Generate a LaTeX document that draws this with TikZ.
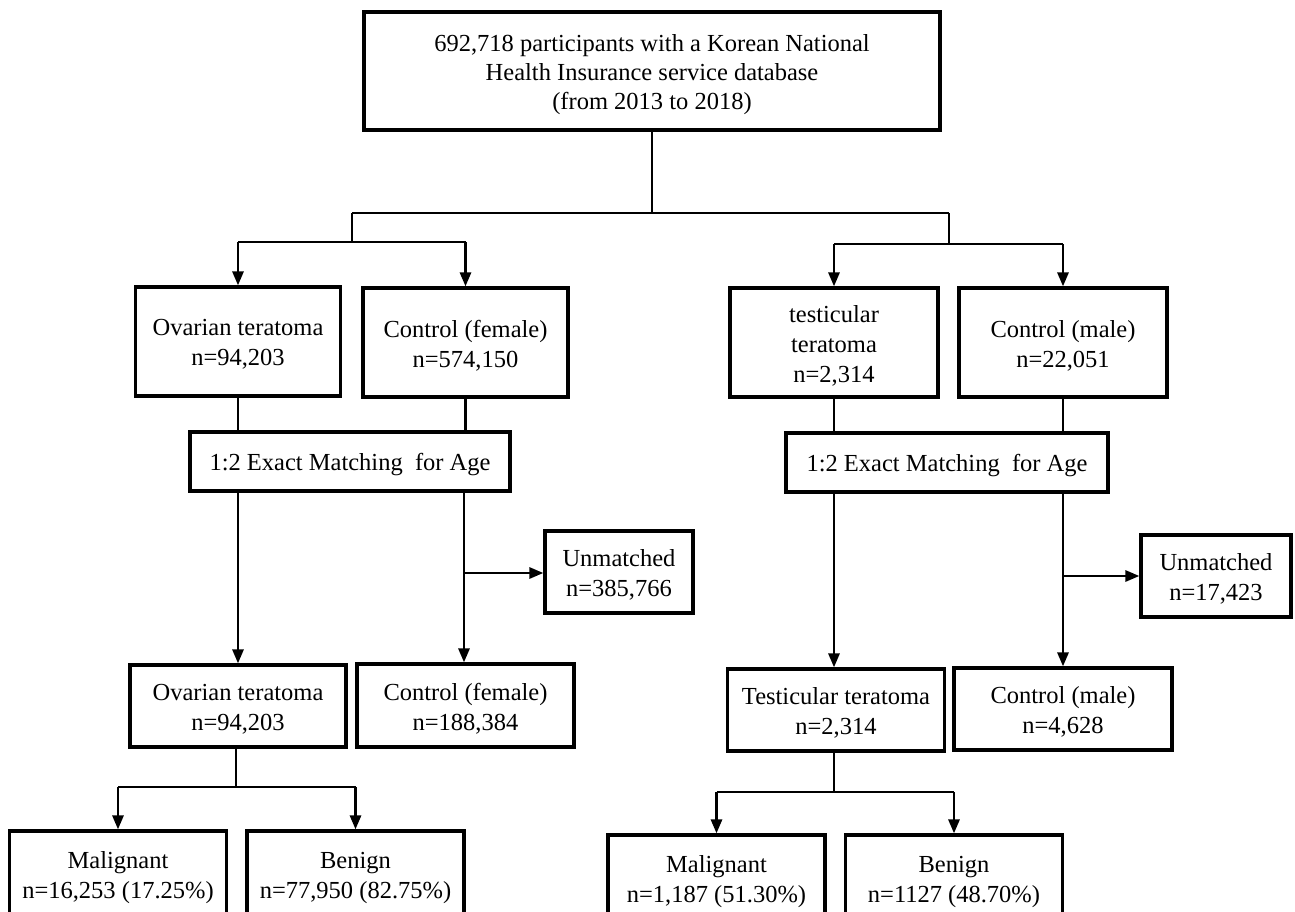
\documentclass[tikz,border=0pt]{standalone}
\usepackage{fontspec}
\setmainfont{Liberation Serif}
\usetikzlibrary{arrows.meta,calc}
\begin{document}
\begin{tikzpicture}[x=1pt,y=-1pt,
  box/.style={draw, line width=3.2pt, inner sep=0pt},
  txt/.style={align=center, inner sep=0pt, font=\fontsize{24.5}{30}\selectfont},
  con/.style={line width=2.8pt},
  arr/.style={line width=2.8pt, -{Triangle[length=14pt,width=11pt]}}]
\useasboundingbox (0,0) rectangle (1295,912);
% top
\node[box, minimum width=576pt, minimum height=118pt] (top) at (652,71) {};
\node[txt, font=\fontsize{24.5}{29}\selectfont] (topt) at ($(top)+(0,3.5)$) {692,718 participants with a Korean National\\Health Insurance service database\\(from 2013 to 2018)};
% level 1
\node[box, minimum width=205pt, minimum height=109pt] (ov1) at (238,341.5) {};
\node[box, minimum width=205pt, minimum height=109pt] (cf1) at (465.5,342.5) {};
\node[box, minimum width=208pt, minimum height=109pt] (te1) at (834,342.5) {};
\node[box, minimum width=208pt, minimum height=109pt] (cm1) at (1063,342.5) {};
\node[txt] (ov1t) at ($(ov1)+(0,3)$) {Ovarian teratoma\\n=94,203};
\node[txt] (cf1t) at ($(cf1)+(0,3)$) {Control (female)\\n=574,150};
\node[txt] (te1t) at ($(te1)+(0,3)$) {testicular\\teratoma\\n=2,314};
\node[txt] (cm1t) at ($(cm1)+(0,3)$) {Control (male)\\n=22,051};
% matching
\node[box, minimum width=320pt, minimum height=59pt] (mL) at (350,461.5) {};
\node[box, minimum width=322pt, minimum height=59pt] (mR) at (947,462.5) {};
\node[txt] (mLt) at ($(mL)+(0,3)$) {1:2 Exact Matching\ \ for Age};
\node[txt] (mRt) at ($(mR)+(0,3)$) {1:2 Exact Matching\ \ for Age};
% unmatched
\node[box, minimum width=148pt, minimum height=82pt] (uL) at (619,572) {};
\node[box, minimum width=150pt, minimum height=82pt] (uR) at (1216,576) {};
\node[txt] (uLt) at ($(uL)+(0,3)$) {Unmatched\\n=385,766};
\node[txt] (uRt) at ($(uR)+(0,3)$) {Unmatched\\n=17,423};
% level 2
\node[box, minimum width=216pt, minimum height=82pt] (ov2) at (238,706) {};
\node[box, minimum width=217pt, minimum height=83pt] (cf2) at (465.5,705.5) {};
\node[box, minimum width=217pt, minimum height=82pt] (te2) at (836,710) {};
\node[box, minimum width=218pt, minimum height=82pt] (cm2) at (1063,709) {};
\node[txt] (ov2t) at ($(ov2)+(0,3)$) {Ovarian teratoma\\n=94,203};
\node[txt] (cf2t) at ($(cf2)+(0,3)$) {Control (female)\\n=188,384};
\node[txt] (te2t) at ($(te2)+(0,3)$) {Testicular teratoma\\n=2,314};
\node[txt] (cm2t) at ($(cm2)+(0,3)$) {Control (male)\\n=4,628};
% level 3
\node[box, minimum width=217pt, minimum height=92pt] (ma1) at (118,877) {};
\node[box, minimum width=217pt, minimum height=92pt] (be1) at (355.5,877) {};
\node[box, minimum width=217pt, minimum height=92pt] (ma2) at (716.5,881) {};
\node[box, minimum width=217pt, minimum height=92pt] (be2) at (954,881) {};
\node[txt] (ma1t) at ($(ma1)+(0,1)$) {Malignant\\n=16,253 (17.25\%)};
\node[txt] (be1t) at ($(be1)+(0,1)$) {Benign\\n=77,950 (82.75\%)};
\node[txt] (ma2t) at ($(ma2)+(0,1)$) {Malignant\\n=1,187 (51.30\%)};
\node[txt] (be2t) at ($(be2)+(0,1)$) {Benign\\n=1127 (48.70\%)};
% junction coordinates
\coordinate (j0) at (652,213);
\coordinate (jL) at (352,213);
\coordinate (jR) at (949,213);
\coordinate (bL) at (352,242);
\coordinate (bR) at (949,244);
\coordinate (sL) at (464,573);
\coordinate (sR) at (1063,576);
\coordinate (dL) at (236,787);
\coordinate (dR) at (834,792);
% connectors top
\draw[con] (top.south) -- (j0);
\draw[con] (jL) -- (jR);
\draw[con] (jL) -- (bL);
\draw[con] (jR) -- (bR);
\draw[con] (ov1.north |- bL) -- (cf1.north |- bL);
\draw[con] (te1.north |- bR) -- (cm1.north |- bR);
\draw[arr] (ov1.north |- bL) -- (ov1.north);
\draw[arr] (cf1.north |- bL) -- (cf1.north);
\draw[arr] (te1.north |- bR) -- (te1.north);
\draw[arr] (cm1.north |- bR) -- (cm1.north);
% to matching
\draw[con] (ov1.south) -- (ov1.south |- mL.north);
\draw[con] (cf1.south) -- (cf1.south |- mL.north);
\draw[con] (te1.south) -- (te1.south |- mR.north);
\draw[con] (cm1.south) -- (cm1.south |- mR.north);
% from matching
\draw[arr] (ov2.north |- mL.south) -- (ov2.north);
\draw[arr] (sL |- mL.south) -- (sL |- cf2.north);
\draw[arr] (sL) -- (uL.west |- sL);
\draw[arr] (te1.south |- mR.south) -- (te1.south |- te2.north);
\draw[arr] (sR |- mR.south) -- (sR |- cm2.north);
\draw[arr] (sR) -- (uR.west |- sR);
% to level 3
\draw[con] (ov2.south -| dL) -- (dL);
\draw[con] (ma1.north |- dL) -- (be1.north |- dL);
\draw[arr] (ma1.north |- dL) -- (ma1.north);
\draw[arr] (be1.north |- dL) -- (be1.north);
\draw[con] (te2.south -| dR) -- (dR);
\draw[con] (ma2.north |- dR) -- (be2.north |- dR);
\draw[arr] (ma2.north |- dR) -- (ma2.north);
\draw[arr] (be2.north |- dR) -- (be2.north);
\end{tikzpicture}
\end{document}
